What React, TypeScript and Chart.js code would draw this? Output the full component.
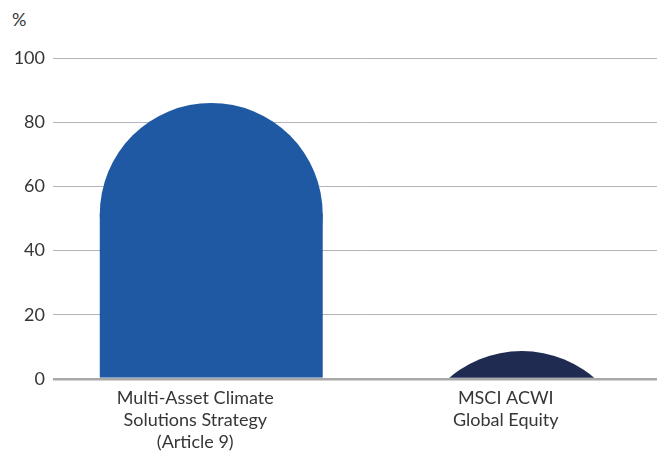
import React, { useEffect, useRef } from "react";
import { Chart, registerables } from "chart.js";

Chart.register(...registerables);

const categories: string[][] = [
  ["Multi-Asset Climate", "Solutions Strategy", "(Article 9)"],
  ["MSCI ACWI", "Global Equity"],
];
const values: number[] = [86, 8.7];
const barColors: string[] = ["#1f58a3", "#1f2b50"];
const yTicks: number[] = [0, 20, 40, 60, 80, 100];
const unitLabel = "%";

const FONT = "Lato, 'Open Sans', sans-serif";

const roundTopBars = {
  id: "roundTopBars",
  beforeDatasetDraw(chart: any, args: any) {
    const { ctx, chartArea } = chart;
    const meta = args.meta;
    meta.data.forEach((el: any, i: number) => {
      const { x, y, base, width } = el.getProps(["x", "y", "base", "width"], true);
      const r = width / 2;
      ctx.save();
      ctx.beginPath();
      ctx.rect(chartArea.left, 0, chartArea.right - chartArea.left, base);
      ctx.clip();
      ctx.fillStyle = barColors[i];
      ctx.beginPath();
      ctx.arc(x, y + r, r, 0, Math.PI * 2);
      ctx.fill();
      if (y + r < base) {
        ctx.fillRect(x - r, y + r - 0.5, width, base - (y + r) + 0.5);
      }
      ctx.restore();
    });
    return false;
  },
};

export default function App() {
  const ref = useRef<HTMLCanvasElement>(null);
  useEffect(() => {
    if (!ref.current) return;
    const chart = new Chart(ref.current, {
      type: "bar",
      data: {
        labels: categories,
        datasets: [
          {
            data: values,
            backgroundColor: barColors,
            barPercentage: 0.718,
            categoryPercentage: 1,
          },
        ],
      },
      options: {
        animation: false,
        responsive: false,
        maintainAspectRatio: false,
        layout: { padding: { top: 58, left: 0, right: 0, bottom: 0 } },
        plugins: {
          legend: { display: false },
          tooltip: { enabled: false },
        },
        scales: {
          x: {
            grid: { display: false },
            border: { display: false },
            ticks: {
              color: "#363636",
              font: { family: FONT, size: 18, lineHeight: 1.22 },
              padding: 0,
              maxRotation: 0,
              autoSkip: false,
              labelOffset: -16,
            },
            afterFit: (s: any) => {
              s.height = 73;
            },
          },
          y: {
            min: 0,
            max: 100,
            afterBuildTicks: (s: any) => {
              s.ticks = yTicks.map((v) => ({ value: v }));
            },
            border: { display: false },
            grid: {
              color: (c: any) => (c.tick && c.tick.value === 0 ? "#a8a8a8" : "#b4b4bd"),
              lineWidth: (c: any) => (c.tick && c.tick.value === 0 ? 2.5 : 1),
              drawTicks: true,
              tickLength: 3,
            },
            ticks: {
              color: "#363636",
              font: { family: FONT, size: 18 },
              padding: 8,
            },
            afterFit: (s: any) => {
              s.width = 56;
            },
          },
        },
      },
      plugins: [roundTopBars],
    });
    return () => chart.destroy();
  }, []);
  return (
    <div
      style={{
        position: "fixed",
        left: 0,
        top: 0,
        width: 657,
        height: 452,
        overflow: "hidden",
        background: "#ffffff",
      }}
    >
      <div
        style={{
          position: "absolute",
          left: 12,
          top: 8,
          fontFamily: FONT,
          fontSize: 18,
          color: "#363636",
        }}
      >
        {unitLabel}
      </div>
      <canvas
        ref={ref}
        width={677}
        height={452}
        style={{ position: "absolute", left: 0, top: 0, width: 677, height: 452 }}
      />
    </div>
  );
}
